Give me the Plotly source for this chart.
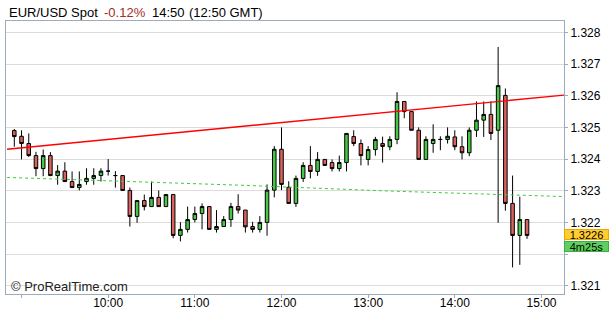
import pandas as pd
import plotly.graph_objects as go

# ---- data (5-minute EUR/USD candles, 08:55 .. 14:50) ----
times = pd.date_range("2013-06-14 08:55", periods=72, freq="5min")

opens = [1.32490, 1.32472, 1.32449, 1.32411, 1.32370, 1.32411, 1.32348, 1.32362, 1.32329, 1.32310,
         1.32329, 1.32339, 1.32348, 1.32362, 1.32348, 1.32348, 1.32301, 1.32219, 1.32269, 1.32250,
         1.32279, 1.32250, 1.32288, 1.32159, 1.32178, 1.32209, 1.32228, 1.32250, 1.32178, 1.32187,
         1.32209, 1.32250, 1.32239, 1.32187, 1.32178, 1.32200, 1.32302, 1.32431, 1.32311, 1.32260,
         1.32339, 1.32380, 1.32361, 1.32399, 1.32389, 1.32370, 1.32389, 1.32471, 1.32449, 1.32399,
         1.32430, 1.32449, 1.32439, 1.32462, 1.32582, 1.32550, 1.32491, 1.32399, 1.32449, 1.32462,
         1.32462, 1.32470, 1.32439, 1.32420, 1.32491, 1.32523, 1.32541, 1.32491, 1.32601, 1.32260,
         1.32159, 1.32209]
highs = [1.32495, 1.32491, 1.32481, 1.32423, 1.32430, 1.32422, 1.32381, 1.32390, 1.32361, 1.32361,
         1.32371, 1.32371, 1.32371, 1.32400, 1.32362, 1.32348, 1.32310, 1.32269, 1.32288, 1.32329,
         1.32301, 1.32288, 1.32288, 1.32201, 1.32250, 1.32250, 1.32260, 1.32250, 1.32239, 1.32220,
         1.32262, 1.32289, 1.32239, 1.32202, 1.32220, 1.32320, 1.32441, 1.32500, 1.32330, 1.32348,
         1.32390, 1.32441, 1.32422, 1.32399, 1.32399, 1.32411, 1.32481, 1.32491, 1.32462, 1.32441,
         1.32470, 1.32471, 1.32472, 1.32611, 1.32582, 1.32550, 1.32500, 1.32472, 1.32510, 1.32472,
         1.32500, 1.32491, 1.32472, 1.32500, 1.32582, 1.32582, 1.32582, 1.32754, 1.32623, 1.32348,
         1.32281, 1.32209]
lows = [1.32439, 1.32399, 1.32407, 1.32346, 1.32346, 1.32346, 1.32319, 1.32329, 1.32310, 1.32301,
        1.32319, 1.32319, 1.32329, 1.32348, 1.32310, 1.32301, 1.32187, 1.32199, 1.32238, 1.32250,
        1.32250, 1.32250, 1.32150, 1.32140, 1.32168, 1.32200, 1.32178, 1.32178, 1.32168, 1.32186,
        1.32186, 1.32228, 1.32168, 1.32168, 1.32168, 1.32158, 1.32279, 1.32302, 1.32260, 1.32249,
        1.32328, 1.32339, 1.32347, 1.32380, 1.32361, 1.32361, 1.32361, 1.32441, 1.32380, 1.32380,
        1.32411, 1.32389, 1.32428, 1.32447, 1.32529, 1.32491, 1.32399, 1.32399, 1.32420, 1.32428,
        1.32449, 1.32428, 1.32399, 1.32409, 1.32470, 1.32470, 1.32460, 1.32199, 1.32237, 1.32058,
        1.32066, 1.32148]
closes = [1.32471, 1.32449, 1.32411, 1.32370, 1.32411, 1.32348, 1.32362, 1.32329, 1.32310, 1.32320,
          1.32339, 1.32348, 1.32362, 1.32362, 1.32348, 1.32301, 1.32219, 1.32269, 1.32250, 1.32279,
          1.32250, 1.32288, 1.32159, 1.32178, 1.32209, 1.32228, 1.32250, 1.32178, 1.32187, 1.32209,
          1.32250, 1.32239, 1.32186, 1.32178, 1.32200, 1.32302, 1.32431, 1.32320, 1.32260, 1.32339,
          1.32380, 1.32361, 1.32399, 1.32380, 1.32370, 1.32389, 1.32481, 1.32449, 1.32411, 1.32430,
          1.32462, 1.32440, 1.32462, 1.32582, 1.32550, 1.32491, 1.32399, 1.32462, 1.32462, 1.32462,
          1.32472, 1.32439, 1.32420, 1.32491, 1.32523, 1.32541, 1.32481, 1.32632, 1.32260, 1.32159,
          1.32209, 1.32159]

trend_times = ["2013-06-14 08:50", "2013-06-14 15:20"]
trend_values = [1.32431, 1.32604]
avg_times = ["2013-06-14 08:50", "2013-06-14 11:35", "2013-06-14 13:15", "2013-06-14 15:20"]
avg_values = [1.32342, 1.32317, 1.32299, 1.32281]

y_tickvals = [1.320, 1.321, 1.322, 1.323, 1.324, 1.325, 1.326, 1.327, 1.328]
y_ticktext = ["1.321", "", "1.322", "1.323", "1.324", "1.325", "1.326", "1.327", "1.328"]
x_tickvals = ["2013-06-14 09:00", "2013-06-14 10:00", "2013-06-14 11:00", "2013-06-14 12:00",
              "2013-06-14 13:00", "2013-06-14 14:00", "2013-06-14 15:00"]
x_ticktext = ["", "10:00", "11:00", "12:00", "13:00", "14:00", "15:00"]

last_price_text = "1.3226"
countdown_text = "4m25s"

FONT = "Liberation Sans, Arial, Helvetica, sans-serif"
BORDER = "#9cacbb"
GREEN = "#46c846"
RED = "#d9625d"

fig = go.Figure()
fig.add_trace(go.Scatter(x=avg_times, y=avg_values, mode="lines",
                         line=dict(color="#3ccc3c", width=1, dash="3px,3px"),
                         hoverinfo="skip", showlegend=False))
fig.add_trace(go.Scatter(x=trend_times, y=trend_values, mode="lines",
                         line=dict(color="#ff0000", width=1.4),
                         hoverinfo="skip", showlegend=False))
fig.add_trace(go.Candlestick(
    x=times, open=opens, high=highs, low=lows, close=closes,
    increasing=dict(fillcolor=GREEN, line=dict(color="#000000", width=1)),
    decreasing=dict(fillcolor=RED, line=dict(color="#000000", width=1)),
    whiskerwidth=0, showlegend=False))

W, H = 611, 309
ml, mr, mt, mb = 6, 47, 21, 15
pw = W - ml - mr


def px_x(px):
    return (px - ml) / pw


title_parts = [("EUR/USD Spot", "#000000", 7.3),
               ("-0.12%", "#a52a2a", 101.5),
               ("14:50", "#000000", 150),
               ("(12:50 GMT)", "#000000", 187)]
for txt, col, xp in title_parts:
    fig.add_annotation(text=txt, xref="paper", yref="paper", x=px_x(xp), y=1,
                       xanchor="left", yanchor="middle", yshift=9, showarrow=False,
                       font=dict(family=FONT, size=13, color=col))

fig.add_annotation(text="© ProRealTime.com", xref="paper", yref="paper", x=px_x(9), y=0,
                   xanchor="left", yanchor="middle", yshift=8, showarrow=False,
                   font=dict(family=FONT, size=13, color="#222222"))

fig.add_annotation(text=last_price_text, xref="paper", yref="y", x=1, y=closes[-1],
                   xanchor="left", yanchor="middle", yshift=1, showarrow=False,
                   bgcolor="#ffcc33", bordercolor="#eba800", borderwidth=1, borderpad=0,
                   width=43, height=9,
                   font=dict(family=FONT, size=11, color="#000000"))
fig.add_annotation(text=countdown_text, xref="paper", yref="y", x=1, y=closes[-1],
                   xanchor="left", yanchor="middle", yshift=-11, showarrow=False,
                   bgcolor="#5fd05f", bordercolor="#3fae3f", borderwidth=1, borderpad=0,
                   width=43, height=9,
                   font=dict(family=FONT, size=11, color="#000000"))

fig.update_layout(
    width=W, height=H,
    margin=dict(l=ml, r=mr, t=mt, b=mb, pad=0, autoexpand=False),
    paper_bgcolor="#ffffff", plot_bgcolor="#ffffff",
    font=dict(family=FONT, size=12, color="#000000"),
    showlegend=False, hovermode=False, boxgap=0.3,
    xaxis=dict(type="date", range=["2013-06-14 08:49:15", "2013-06-14 15:15:36"],
               rangeslider=dict(visible=False), showgrid=False, zeroline=False,
               showline=True, linecolor=BORDER, linewidth=1, mirror=True,
               ticks="outside", ticklen=3, tickcolor=BORDER, automargin=False,
               ticklabelstandoff=-5,
               tickvals=x_tickvals, ticktext=x_ticktext,
               tickfont=dict(family=FONT, size=12, color="#000000")),
    yaxis=dict(side="right", range=[1.31974, 1.32836], showgrid=True, gridcolor="#dcdcdc",
               gridwidth=1, zeroline=False, showline=True, linecolor=BORDER, linewidth=1,
               mirror=True, ticks="outside", ticklen=3, tickcolor=BORDER, automargin=False,
               tickvals=y_tickvals, ticktext=y_ticktext,
               tickfont=dict(family=FONT, size=12, color="#000000")),
)

fig.write_html("out.html")
